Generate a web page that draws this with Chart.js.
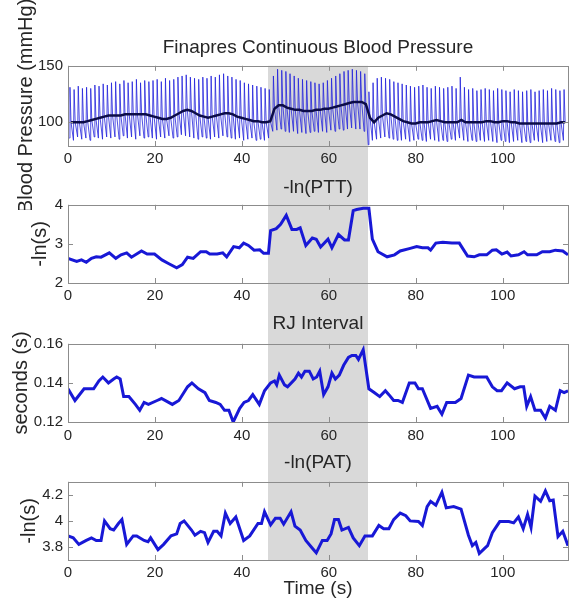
<!DOCTYPE html>
<html>
<head>
<meta charset="utf-8">
<script src="https://cdn.jsdelivr.net/npm/chart.js@4.4.1/dist/chart.umd.min.js"></script>
<style>
  html, body { margin: 0; padding: 0; background: #fff; }
  #wrap { position: relative; width: 578px; height: 600px; overflow: hidden; }
  #wrap canvas { position: absolute; left: 0; }
</style>
</head>
<body>
<div id="wrap">
  <canvas id="bp" width="578" height="210" style="top:0"></canvas>
  <canvas id="ptt" width="578" height="130" style="top:170px"></canvas>
  <canvas id="rj" width="578" height="140" style="top:300px"></canvas>
  <canvas id="pat" width="578" height="162" style="top:440px"></canvas>
</div>
<script>
// shaded interval (s)
const bandStart = 46;
const bandEnd = 69;
const xTicks = [0, 20, 40, 60, 80, 100];

// Finapres blood pressure, one value per beat
const bpBeatStart = 0.3;
const bpBeatPeriod = 0.955;
const bpPeak = [
  131, 129, 132, 130, 131, 130, 133, 132, 134, 133,
  135, 136, 134, 137, 135, 136, 138, 135, 137, 136,
  137, 138, 136, 139, 137, 138, 140, 141, 142, 140,
  139, 138, 140, 139, 141, 140, 142, 143, 141, 140,
  138, 137, 135, 134, 133, 132, 131, 130, 129, 141,
  147, 146, 145, 143, 141, 139, 138, 137, 136, 135,
  134, 135, 137, 139, 141, 143, 145, 146, 147, 146,
  145, 143, 127, 135, 139, 140, 139, 138, 136, 135,
  134, 133, 132, 131, 132, 133, 131, 130, 132, 131,
  130, 131, 132, 130, 140, 131, 129, 130, 128, 129,
  130, 129, 128, 130, 129, 128, 127, 129, 128, 127,
  128, 129, 127, 128, 129, 128, 130, 129, 128, 129
];
const bpTrough = [
  86, 84, 87, 85, 86, 84, 87, 86, 85, 87,
  86, 87, 85, 88, 86, 87, 85, 88, 86, 87,
  86, 85, 87, 86, 88, 86, 87, 89, 88, 87,
  86, 85, 87, 86, 85, 87, 86, 88, 87, 86,
  85, 86, 84, 85, 86, 84, 85, 84, 86, 92,
  93, 94, 92, 91, 92, 90, 91, 90, 91, 92,
  91, 92, 91, 93, 92, 94, 93, 94, 95, 94,
  94, 92, 80, 84, 85, 86, 87, 86, 85, 84,
  84, 85, 83, 84, 85, 84, 83, 85, 84, 83,
  84, 83, 85, 84, 86, 84, 83, 84, 83, 84,
  83, 84, 83, 82, 84, 83, 82, 83, 84, 82,
  83, 82, 84, 83, 82, 83, 84, 83, 82, 84
];
const bpMean = [
  100, 100, 100, 100, 101, 102, 103, 104, 105, 106,
  106, 106, 106, 107, 107, 107, 107, 107, 107, 106,
  105, 104, 103, 103, 104, 106, 108, 110, 111, 110,
  108, 106, 105, 104, 105, 106, 107, 108, 108, 107,
  105, 104, 103, 102, 101, 101, 100, 100, 101, 112,
  115, 115, 113, 112, 111, 111, 110, 110, 110, 111,
  111, 112, 112, 113, 114, 115, 116, 117, 118, 118,
  118, 116, 104, 100, 104, 106, 108, 107, 105, 103,
  101, 100, 99, 99, 100, 100, 100, 101, 102, 101,
  100, 100, 100, 100, 102, 100, 100, 100, 100, 100,
  101, 101, 100, 100, 101, 101, 100, 100, 99, 99,
  99, 99, 99, 99, 99, 99, 99, 99, 100, 100
];

// -ln(PTT)
const pttTime = [0, 2, 3.1, 4.2, 5.4, 6.5, 7.6, 9.5, 11, 12.2, 13.5, 14.6, 16.9, 18.2, 19.9, 21.6, 23.1, 25, 26.3, 27.5,
  28.8, 30.5, 31.8, 32.6, 34.3, 35.6, 36.5, 38.1, 39.4, 40.4, 41.5, 42.8, 44.1, 45, 46.1, 46.6, 47.9, 48.9, 50.2, 51.5,
  52.6, 53.4, 54.7, 56.2, 57.1, 58.1, 59.8, 60.7, 62.2, 63.6, 64.5, 65.6, 66.4, 67.9, 69.2, 70, 71.3, 73.4, 75.1, 76.4,
  78.5, 80.2, 81.5, 82.8, 83.4, 84.6, 86.2, 88.3, 90, 91.9, 93.4, 94.6, 96.3, 97.6, 98.5, 99.8, 101, 101.9, 103.6, 104.9,
  105.7, 107.8, 109.1, 110.8, 112.1, 113.8, 115];
const pttValue = [2.63, 2.55, 2.59, 2.53, 2.63, 2.67, 2.66, 2.77, 2.63, 2.72, 2.77, 2.66, 2.82, 2.74, 2.74, 2.59, 2.5, 2.39, 2.47, 2.66,
  2.63, 2.8, 2.8, 2.74, 2.74, 2.77, 2.67, 2.93, 2.9, 3.02, 2.96, 2.84, 2.85, 2.76, 2.76, 3.34, 3.39, 3.5, 3.73, 3.37,
  3.37, 3.41, 2.96, 3.15, 3.12, 2.92, 3.12, 2.9, 3.24, 3.1, 3.1, 3.85, 3.88, 3.91, 3.91, 3.12, 2.8, 2.67, 2.72, 2.82,
  2.88, 2.93, 2.9, 2.9, 2.84, 3.02, 3.04, 3.02, 3.02, 2.69, 2.67, 2.72, 2.72, 2.84, 2.85, 2.74, 2.79, 2.69, 2.72, 2.8,
  2.72, 2.72, 2.8, 2.8, 2.84, 2.82, 2.72];

// RJ interval (s)
const rjTime = [0, 1.6, 3.7, 5.9, 7.1, 8, 9.3, 10.5, 11.2, 12, 12.8, 14, 15.5, 16.5, 17.5, 18.5, 20.5, 21.5, 24, 25.5,
  27.5, 28.5, 30, 31.5, 32.5, 34, 35, 36, 37, 38, 39.5, 40.5, 41.5, 42.5, 44, 45.2, 46.6, 47.5, 48, 48.6,
  49.8, 50.5, 52.2, 53, 53.7, 54.5, 55.5, 56.4, 57.2, 57.9, 58.8, 59.8, 60.7, 61.5, 62.4, 63.4, 64.5, 65.3, 66.2, 66.8,
  67.9, 69.2, 70.5, 71.7, 73, 73.8, 74.9, 75.9, 76.9, 78.5, 79.8, 80.6, 81.5, 83.4, 84.9, 86, 87.1, 89.1, 90.4, 92.1,
  93.4, 96.3, 97.6, 98.7, 99.7, 101, 102.7, 104, 104.8, 105.5, 106.4, 107.4, 108.7, 109.8, 110.8, 112.1, 113.2, 114.1, 115];
const rjValue = [0.137, 0.131, 0.137, 0.137, 0.141, 0.143, 0.140, 0.142, 0.143, 0.142, 0.133, 0.133, 0.129, 0.126, 0.130, 0.129, 0.131, 0.132, 0.129, 0.131,
  0.138, 0.140, 0.137, 0.135, 0.131, 0.130, 0.129, 0.126, 0.126, 0.120, 0.127, 0.130, 0.131, 0.134, 0.129, 0.136, 0.140, 0.141, 0.139, 0.144,
  0.139, 0.138, 0.142, 0.145, 0.143, 0.146, 0.146, 0.142, 0.143, 0.146, 0.134, 0.138, 0.145, 0.142, 0.144, 0.149, 0.153, 0.154, 0.154, 0.152,
  0.157, 0.137, 0.135, 0.133, 0.136, 0.134, 0.131, 0.131, 0.130, 0.140, 0.140, 0.137, 0.137, 0.127, 0.128, 0.124, 0.130, 0.130, 0.132, 0.144,
  0.143, 0.143, 0.138, 0.136, 0.136, 0.140, 0.137, 0.138, 0.138, 0.128, 0.133, 0.126, 0.126, 0.122, 0.128, 0.126, 0.136, 0.135, 0.136];

// -ln(PAT)
const patTime = [0, 1.2, 2.5, 4.2, 5.4, 6.5, 7.6, 8.4, 9.7, 10.5, 11.6, 12.4, 13.5, 15, 15.8, 17.5, 18.4, 19, 20.7, 22,
  23.7, 25, 25.8, 26.7, 28.4, 29.2, 30.5, 31.4, 32.2, 33.5, 34.3, 35.2, 36.2, 37.3, 38.6, 40.4, 41.8, 43.7, 44.5, 45.2,
  46.6, 47.7, 48.8, 49.6, 51.3, 52.2, 53.4, 54.7, 56.2, 57.1, 58.5, 59.6, 60.5, 61.3, 62.2, 63, 64.5, 65.6, 67, 68.3,
  70, 71.5, 72.6, 73.8, 74.9, 76.4, 77.7, 78.7, 80.6, 81.5, 82.6, 83.4, 84.6, 86, 87, 88.7, 90.4, 92.1, 93, 93.8,
  94.6, 95.7, 96.5, 97.6, 99.3, 101.4, 102.5, 103.6, 104.7, 105.7, 106.5, 107.4, 108.7, 109.8, 110.8, 111.6, 112.7, 113.8, 115];
const patValue = [3.885, 3.87, 3.82, 3.85, 3.87, 3.85, 3.85, 4.0, 3.94, 3.93, 3.98, 4.01, 3.82, 3.885, 3.885, 3.85, 3.84, 3.87, 3.78, 3.82,
  3.885, 3.9, 3.98, 4.0, 3.93, 3.89, 3.92, 3.91, 3.835, 3.92, 3.92, 3.885, 4.06, 3.98, 4.03, 3.85, 3.885, 3.98, 3.98, 4.07,
  3.97, 4.02, 4.02, 3.975, 4.07, 3.96, 3.93, 3.85, 3.79, 3.755, 3.85, 3.85, 3.9, 4.01, 4.01, 3.93, 3.95, 3.87, 3.81, 3.885,
  3.885, 3.965, 3.94, 3.94, 4.01, 4.06, 4.04, 4.0, 3.995, 3.965, 4.11, 4.15, 4.12, 4.22, 4.1, 4.11, 4.09, 3.89, 3.81, 3.835,
  3.75, 3.785, 3.81, 3.91, 3.995, 3.995, 3.985, 4.03, 3.94, 4.05, 3.95, 4.19, 4.15, 4.23, 4.155, 4.16, 3.88, 3.92, 3.81];

const lineBlue = 'rgb(24,24,214)';
const textColor = '#262626';
const frameColor = '#8c8c8c';
Chart.defaults.font.family = '"Liberation Sans", Arial, sans-serif';
Chart.defaults.color = textColor;

function pairs(xs, ys) {
  return xs.map((x, i) => ({ x: x, y: ys[i] }));
}

// grey interval band, drawn behind everything
const bandPlugin = {
  id: 'band',
  beforeDraw(chart, args, opts) {
    const { ctx, chartArea, scales } = chart;
    const x0 = scales.x.getPixelForValue(bandStart);
    const x1 = scales.x.getPixelForValue(bandEnd);
    const top = opts.fromArea ? chartArea.top : 0;
    const bottom = opts.toArea ? chartArea.bottom : chart.height;
    ctx.save();
    ctx.fillStyle = '#d9d9d9';
    ctx.fillRect(x0, top, x1 - x0, bottom - top);
    ctx.restore();
  }
};

// matlab style box with inward ticks
const framePlugin = {
  id: 'frame',
  afterDatasetsDraw(chart) {
    const { ctx, chartArea: a, scales } = chart;
    ctx.save();
    ctx.strokeStyle = frameColor;
    ctx.lineWidth = 1;
    ctx.beginPath();
    scales.x.ticks.forEach(t => {
      const px = Math.round(scales.x.getPixelForValue(t.value)) + 0.5;
      ctx.moveTo(px, a.bottom); ctx.lineTo(px, a.bottom - 5);
      ctx.moveTo(px, a.top); ctx.lineTo(px, a.top + 5);
    });
    scales.y.ticks.forEach(t => {
      const py = Math.round(scales.y.getPixelForValue(t.value)) + 0.5;
      ctx.moveTo(a.left, py); ctx.lineTo(a.left + 5, py);
      ctx.moveTo(a.right, py); ctx.lineTo(a.right - 5, py);
    });
    ctx.stroke();
    ctx.strokeRect(Math.round(a.left) + 0.5, Math.round(a.top) + 0.5,
      Math.round(a.right - a.left), Math.round(a.bottom - a.top));
    ctx.restore();
  }
};

function makeChart(id, cfg) {
  const canvas = document.getElementById(id);
  return new Chart(canvas, {
    type: 'line',
    data: { datasets: cfg.datasets },
    options: {
      responsive: false,
      animation: false,
      devicePixelRatio: 1,
      layout: { padding: { left: 0, right: 10, top: 0, bottom: 0 } },
      elements: { point: { radius: 0 }, line: { tension: 0 } },
      plugins: {
        legend: { display: false },
        tooltip: { enabled: false },
        band: { fromArea: cfg.fromArea, toArea: cfg.toArea },
        title: {
          display: true,
          text: cfg.title,
          fullSize: false,
          color: textColor,
          font: { size: 19, weight: 'normal' },
          padding: cfg.titlePad
        }
      },
      scales: {
        x: {
          type: 'linear',
          min: 0,
          max: 115,
          grid: { display: false, drawTicks: false },
          border: { display: false },
          ticks: { font: { size: 15 }, padding: cfg.xPad || 4, maxRotation: 0 },
          afterBuildTicks: s => { s.ticks = xTicks.map(v => ({ value: v })); },
          afterFit: s => { s.height = cfg.xHeight; },
          title: cfg.xTitle ? {
            display: true, text: cfg.xTitle, color: textColor,
            font: { size: 19 }, padding: { top: 0, bottom: 2 }
          } : { display: false }
        },
        y: {
          min: cfg.yMin,
          max: cfg.yMax,
          grid: { display: false, drawTicks: false },
          border: { display: false },
          ticks: {
            font: { size: 15 }, padding: 5,
            callback: v => String(Math.round(v * 1000) / 1000)
          },
          afterBuildTicks: s => { s.ticks = cfg.yTicks.map(v => ({ value: v })); },
          afterFit: s => { s.width = 68; },
          title: {
            display: true, text: cfg.yTitle, color: textColor,
            font: { size: 20 }, padding: { top: cfg.yTitlePad, bottom: 0 }
          }
        }
      }
    },
    plugins: [bandPlugin, framePlugin]
  });
}

// blood pressure waveform from per-beat trough, peak and mean
const bpWave = [];
const bpMeanLine = [];
bpPeak.forEach((p, i) => {
  const t = bpBeatStart + i * bpBeatPeriod;
  bpWave.push({ x: t, y: bpTrough[i] });
  bpWave.push({ x: t + 0.15, y: p });
  bpWave.push({ x: t + 0.4, y: bpMean[i] });
  bpMeanLine.push({ x: t + 0.4, y: bpMean[i] });
});

makeChart('bp', {
  title: 'Finapres Continuous Blood Pressure',
  titlePad: { top: 36, bottom: 7 },
  yTitle: 'Blood Pressure (mmHg)',
  yTitlePad: 14,
  yMin: 79, yMax: 150, yTicks: [100, 150],
  xHeight: 64,
  fromArea: true, toArea: false,
  datasets: [
    { data: bpMeanLine, borderColor: '#0c0c48', borderWidth: 2.5 },
    { data: bpWave, borderColor: 'rgba(35,35,220,0.8)', borderWidth: 1 }
  ]
});

makeChart('ptt', {
  title: '-ln(PTT)',
  titlePad: { top: 6, bottom: 6 },
  yTitle: '-ln(s)',
  yTitlePad: 28,
  yMin: 2, yMax: 4, yTicks: [2, 3, 4],
  xHeight: 17,
  fromArea: false, toArea: false,
  datasets: [{ data: pairs(pttTime, pttValue), borderColor: lineBlue, borderWidth: 3 }]
});

makeChart('rj', {
  title: 'RJ Interval',
  titlePad: { top: 12, bottom: 9 },
  yTitle: 'seconds (s)',
  yTitlePad: 9,
  yMin: 0.12, yMax: 0.16, yTicks: [0.12, 0.14, 0.16],
  xHeight: 18,
  xPad: 5,
  fromArea: false, toArea: false,
  datasets: [{ data: pairs(rjTime, rjValue), borderColor: lineBlue, borderWidth: 3 }]
});

makeChart('pat', {
  title: '-ln(PAT)',
  titlePad: { top: 11, bottom: 8 },
  yTitle: '-ln(s)',
  yTitlePad: 17,
  yMin: 3.7, yMax: 4.3, yTicks: [3.8, 4, 4.2],
  xHeight: 42,
  xTitle: 'Time (s)',
  fromArea: false, toArea: true,
  datasets: [{ data: pairs(patTime, patValue), borderColor: lineBlue, borderWidth: 3 }]
});
</script>
</body>
</html>
